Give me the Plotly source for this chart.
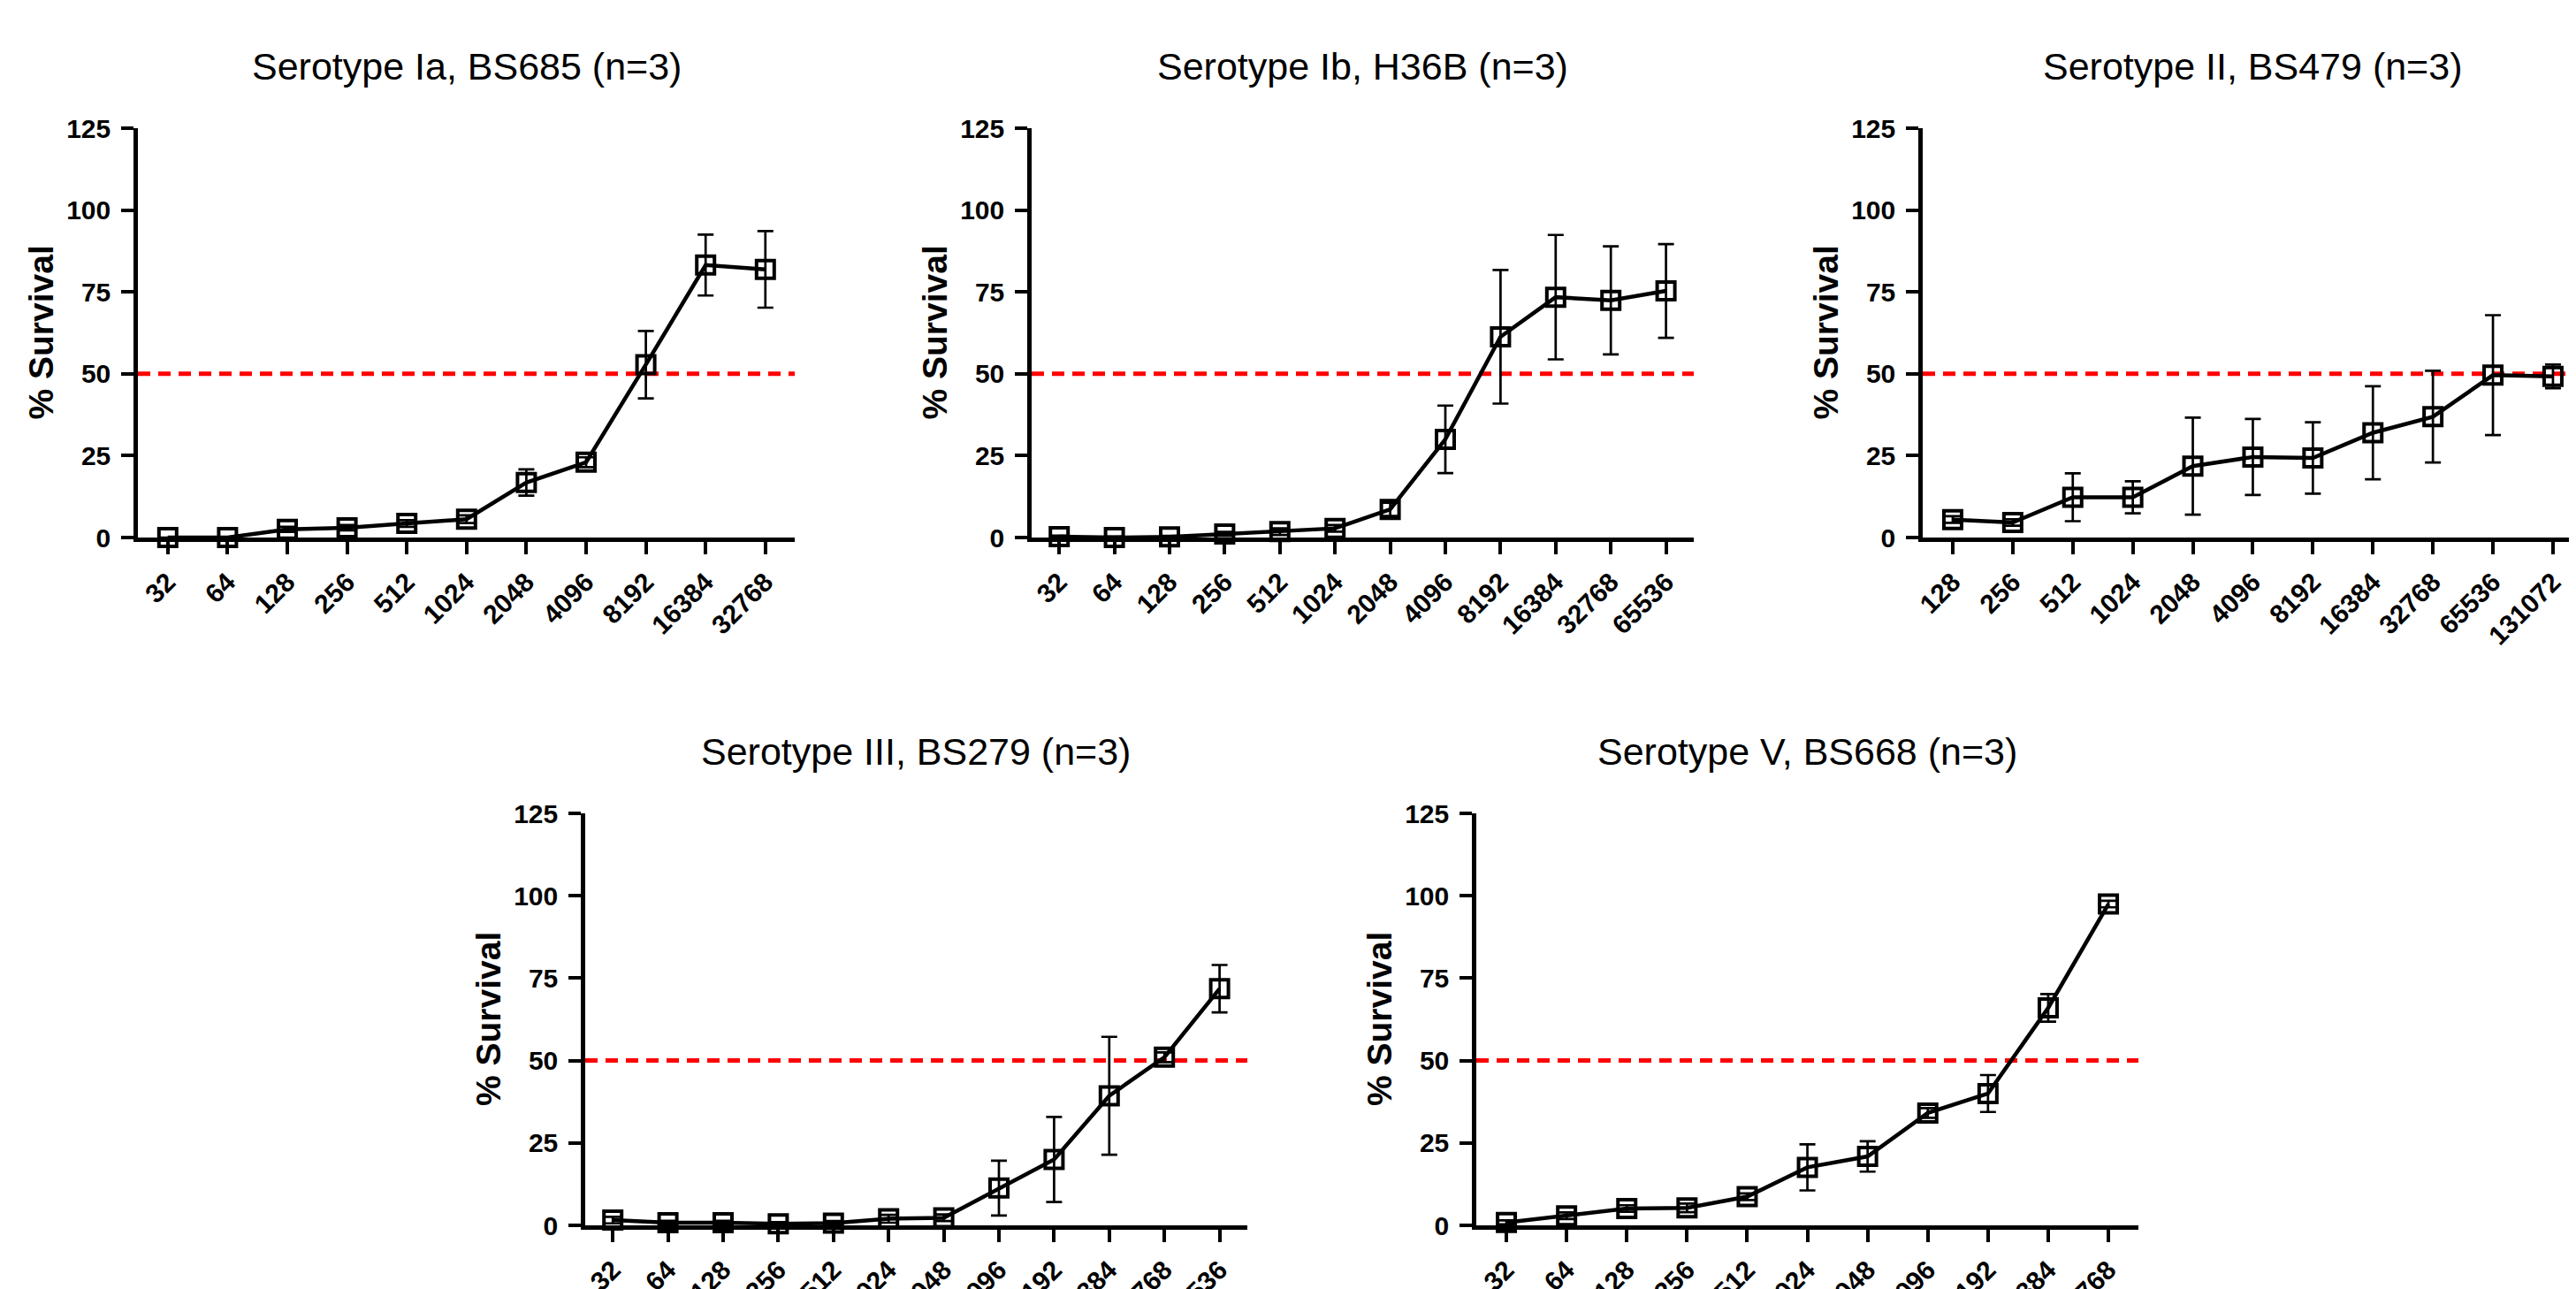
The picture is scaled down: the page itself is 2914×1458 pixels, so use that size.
import plotly.graph_objects as go

# ---------------- data ----------------
TITLES = [
    "Serotype Ia, BS685 (n=3)",
    "Serotype Ib, H36B (n=3)",
    "Serotype II, BS479 (n=3)",
    "Serotype III, BS279 (n=3)",
    "Serotype V, BS668 (n=3)",
]

LABELS_IA = ["32", "64", "128", "256", "512", "1024", "2048", "4096", "8192", "16384", "32768"]
MEAN_IA = [0, 0, 2.5, 3.0, 4.3, 5.6, 16.8, 23.0, 52.8, 83.2, 81.9]
ERR_IA = [0, 0, 0.8, 0.8, 1.0, 1.2, 4.0, 1.5, 10.3, 9.3, 11.7]

LABELS_IB = ["32", "64", "128", "256", "512", "1024", "2048", "4096", "8192", "16384", "32768", "65536"]
MEAN_IB = [0.3, 0.0, 0.2, 1.1, 1.8, 2.8, 8.6, 30.0, 61.3, 73.4, 72.4, 75.3]
ERR_IB = [0.3, 0.3, 0.3, 0.6, 1.0, 1.0, 2.0, 10.3, 20.4, 19.0, 16.5, 14.3]

LABELS_II = ["128", "256", "512", "1024", "2048", "4096", "8192", "16384", "32768", "65536", "131072"]
MEAN_II = [5.5, 4.6, 12.3, 12.3, 21.8, 24.6, 24.3, 32.0, 36.9, 49.6, 49.2]
ERR_II = [1.0, 1.0, 7.3, 4.9, 14.8, 11.6, 10.9, 14.2, 14.0, 18.3, 3.6]

LABELS_III = ["32", "64", "128", "256", "512", "1024", "2048", "4096", "8192", "16384", "32768", "65536"]
MEAN_III = [1.6, 0.8, 0.8, 0.5, 0.7, 2.0, 2.3, 11.3, 20.0, 39.3, 51.0, 71.8]
ERR_III = [1.0, 0.6, 0.6, 0.5, 0.6, 1.2, 1.0, 8.3, 12.9, 17.9, 1.5, 7.2]

LABELS_V = ["32", "64", "128", "256", "512", "1024", "2048", "4096", "8192", "16384", "32768"]
MEAN_V = [0.9, 2.9, 5.1, 5.3, 8.7, 17.6, 20.9, 34.1, 40.0, 66.0, 97.5]
ERR_V = [0.6, 1.0, 1.0, 1.3, 1.0, 7.0, 4.6, 1.5, 5.6, 4.2, 1.0]

Y_TICKS = [0, 25, 50, 75, 100, 125]
THRESHOLD = 50
Y_TITLE = "% Survival"

PANELS = [
    (TITLES[0], LABELS_IA, MEAN_IA, ERR_IA),
    (TITLES[1], LABELS_IB, MEAN_IB, ERR_IB),
    (TITLES[2], LABELS_II, MEAN_II, ERR_II),
    (TITLES[3], LABELS_III, MEAN_III, ERR_III),
    (TITLES[4], LABELS_V, MEAN_V, ERR_V),
]

# ---------------- layout geometry (page pixels) ----------------
PAGE_W, PAGE_H = 2914, 1458
BODY = 8  # default HTML body margin
W, H = PAGE_W - BODY, PAGE_H - BODY
# left, right, top, bottom of each plot area (page px), and category spacing
GEO = [
    (156, 899, 145, 608, 67.6),
    (1167, 1916, 145, 608, 62.4),
    (2175, PAGE_W, 145, 608, 67.9),
    (662, 1411, 920, 1386, 62.4),
    (1670, 2419, 920, 1386, 68.1),
]
TITLE_Y = [75, 75, 75, 850, 850]

FONT = "Liberation Sans, Arial, sans-serif"


def fx(p):
    return (p - BODY) / W


def fy(p):
    return 1 - (p - BODY) / H


fig = go.Figure()
annotations = []
shapes = []

for i, ((title, labels, mean, err), (l, r, t, b, sp), ty) in enumerate(zip(PANELS, GEO, TITLE_Y)):
    n = i + 1
    xname = "x" if n == 1 else f"x{n}"
    yname = "y" if n == 1 else f"y{n}"
    xs = list(range(len(labels)))
    fig.add_trace(go.Scatter(
        x=xs, y=mean,
        mode="lines+markers",
        line=dict(color="black", width=4.5),
        marker=dict(symbol="square-open", size=20, color="black",
                    line=dict(color="black", width=4)),
        error_y=dict(type="data", array=err, visible=True, color="black",
                     thickness=2.7, width=9),
        cliponaxis=False,
        showlegend=False,
        xaxis=xname, yaxis=yname,
    ))
    x_end = -0.5 + (r - l) / sp
    ax = dict(
        domain=[fx(l), min(1.0, fx(r))],
        range=[-0.5, x_end],
        anchor=yname,
        automargin=False,
        tickmode="array",
        tickvals=xs,
        ticktext=labels,
        tickangle=-45,
        ticks="outside", ticklen=14, tickwidth=4, tickcolor="black",
        showline=True, linewidth=4.5, linecolor="black",
        showgrid=False, zeroline=False,
        tickfont=dict(family=FONT, size=30, color="black", weight="bold"),
        ticklabelstandoff=2,
        fixedrange=True,
    )
    ay = dict(
        domain=[fy(b), fy(t)],
        range=[0, 125],
        anchor=xname,
        automargin=False,
        tickmode="array",
        tickvals=Y_TICKS,
        ticks="outside", ticklen=14, tickwidth=4, tickcolor="black",
        showline=True, linewidth=4.5, linecolor="black",
        showgrid=False, zeroline=False,
        tickfont=dict(family=FONT, size=30, color="black", weight="bold"),
        ticklabelstandoff=6,
        fixedrange=True,
    )
    fig.layout["xaxis" if n == 1 else f"xaxis{n}"] = ax
    fig.layout["yaxis" if n == 1 else f"yaxis{n}"] = ay

    shapes.append(dict(
        type="line", xref=f"{xname} domain", yref=yname,
        x0=0, x1=1, y0=THRESHOLD, y1=THRESHOLD,
        line=dict(color="#FF0000", width=5, dash="14px,9px"),
        layer="below",
    ))
    cx = (l + l + len(labels) * sp) / 2
    annotations.append(dict(
        text=title, x=fx(cx), y=fy(ty), xref="paper", yref="paper",
        xanchor="center", yanchor="middle", showarrow=False,
        font=dict(family=FONT, size=43, color="black"),
    ))
    annotations.append(dict(
        text=Y_TITLE, x=fx(l - 110), y=fy((t + b) / 2), xref="paper", yref="paper",
        xanchor="center", yanchor="middle", showarrow=False, textangle=-90,
        font=dict(family=FONT, size=39, color="black", weight="bold"),
    ))

fig.update_layout(
    width=W, height=H,
    autosize=False,
    margin=dict(l=0, r=0, t=0, b=0, pad=0, autoexpand=False),
    paper_bgcolor="white", plot_bgcolor="white",
    annotations=annotations, shapes=shapes,
    showlegend=False,
)

fig.write_html("out.html")
